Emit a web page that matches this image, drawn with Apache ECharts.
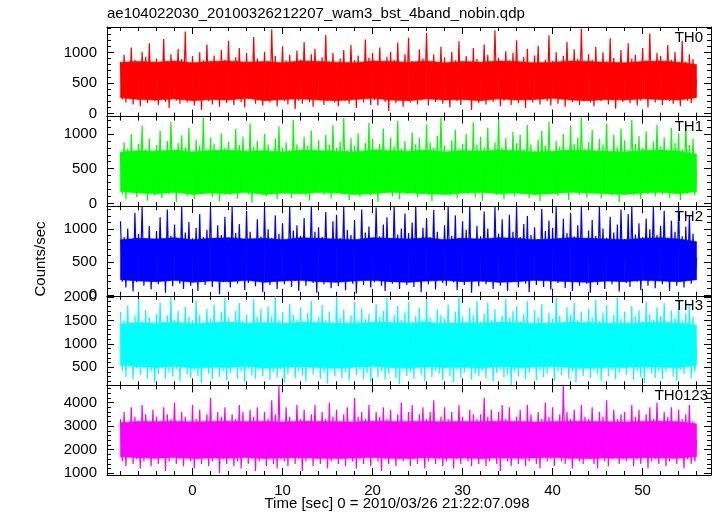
<!DOCTYPE html>
<html><head><meta charset="utf-8">
<script src="https://cdn.jsdelivr.net/npm/echarts@6/dist/echarts.min.js"></script>
<style>html,body{margin:0;padding:0;background:#fff}#c{width:717px;height:516px}</style>
</head><body><div id="c"></div>
<script>
const TITLE = 'ae104022030_20100326212207_wam3_bst_4band_nobin.qdp';
const X_NAME = 'Time [sec] 0 = 2010/03/26 21:22:07.098';
const Y_NAME = 'Counts/sec';
const BANDS = ['TH0', 'TH1', 'TH2', 'TH3', 'TH0123'];
const COLORS = ['#ff0000', '#00ff00', '#0000ff', '#00ffff', '#ff00ff'];

// light-curve samples (time grid: start -8 s, step 0.2 s)
const T_START = -8, T_STEP = 0.2;
const TH0 = [
 840,230,960,180,720,310,1080,150,880,260,790,120,1010,240,930,170,1150,290,820,200,
 900,140,760,270,1220,190,850,90,970,300,780,210,1060,160,890,250,1340,180,740,280,
 940,130,810,230,1000,60,870,260,1130,200,770,150,950,310,830,110,1040,220,880,170,
 1190,250,800,140,920,280,1070,190,760,100,990,240,850,300,1250,160,900,220,780,130,
 1010,270,860,180,1380,230,940,120,820,290,1100,200,870,150,960,260,790,70,1030,210,
 880,160,1170,280,830,190,970,110,1060,240,780,300,920,140,1290,210,850,250,990,180,
 760,120,900,270,1040,200,810,160,1120,290,870,90,950,230,800,180,1210,260,910,140,
 990,220,840,130,1080,280,760,190,930,40,1010,250,880,170,1160,230,820,110,970,300,
 1240,180,860,260,790,150,1050,210,900,270,1320,130,830,240,970,190,780,290,1090,160,
 920,250,810,100,1010,280,870,200,1180,140,760,230,940,310,850,60,1070,220,890,170,
 800,290,1130,150,960,240,820,190,1360,260,910,120,780,210,1020,280,870,140,990,230,
 1200,170,840,260,930,90,1060,220,790,180,950,300,1110,150,820,240,880,200,1280,130,
 860,250,1000,160,770,280,940,110,1170,230,830,190,1050,270,900,140,1390,210,810,260,
 970,180,880,120,1090,250,760,200,1000,290,850,150,1230,220,910,80,790,270,1040,190,
 830,240,1150,170,900,280,960,130,810,210,1070,260,870,100,1310,230,780,180,990,250,
 940,140,820,270,1120,200,880,160,1010,290,760,120,1190,240,850,210,970,170,890,280,
 560];
const TH1 = [
 720,130,880,60,790,210,1000,150,740,90,860,230,1120,170,780,40,930,200,700,110,
 840,160,1050,80,760,220,900,130,1180,190,730,20,870,240,980,150,810,100,1090,180,
 750,60,920,210,830,140,1240,170,780,230,950,90,860,190,710,30,1010,160,800,240,
 890,120,770,200,1070,70,840,180,960,220,740,130,1150,10,820,190,900,150,760,230,
 1000,100,850,170,720,240,930,60,1110,200,800,140,880,220,760,80,1200,160,850,190,
 740,230,960,110,830,40,1050,190,780,150,910,210,700,120,990,250,840,70,1130,170,
 800,200,890,130,1230,180,760,50,940,220,830,140,1010,90,720,230,870,160,1160,110,
 930,190,780,20,860,240,1080,150,740,200,950,100,820,170,1190,60,790,220,900,130,
 710,180,1020,210,850,90,940,150,760,230,1140,120,880,30,800,200,970,170,1240,140,
 830,220,750,110,910,160,1060,70,790,240,860,190,1000,130,730,210,1170,90,840,150,
 960,40,810,200,1090,170,760,230,880,120,1210,180,800,60,940,210,720,150,1030,100,
 870,230,990,140,780,190,1130,80,850,220,760,160,920,30,1050,200,830,130,1180,240,
 740,170,900,110,820,210,1000,150,770,50,1120,190,860,230,950,120,1240,180,790,90,
 880,220,1060,140,750,200,930,70,840,240,1150,160,720,110,990,190,810,20,1080,150,
 910,180,770,230,1200,120,860,170,970,60,800,210,1040,140,730,240,890,100,1130,190,
 820,130,950,220,760,80,1090,160,870,200,1010,50,780,180,1170,140,840,210,930,120,
 470];
const TH2 = [
 1120,200,880,110,1010,280,790,50,1250,190,930,240,1340,140,860,290,1050,80,820,230,
 970,160,1180,270,840,30,1300,210,900,130,1070,300,780,170,1340,90,950,250,1110,140,
 860,280,1020,60,1230,200,880,150,990,310,1340,120,830,230,1060,10,910,190,1190,260,
 800,110,1340,220,940,170,1080,290,850,70,1280,180,960,240,810,130,1150,300,890,40,
 1340,200,1000,150,870,270,1210,90,930,230,1090,160,820,310,1340,120,980,210,1060,60,
 900,250,1170,140,840,290,1340,180,960,30,1030,220,880,160,1260,270,800,100,1120,200,
 1220,130,870,240,1340,70,990,300,910,170,1140,20,830,230,1300,150,950,260,1040,110,
 820,190,1330,280,890,140,1070,60,1180,240,860,170,1340,300,920,90,1010,210,1240,150,
 940,270,1100,120,1340,200,850,40,1020,260,1170,160,880,290,1290,80,960,230,830,180,
 1060,140,1340,250,900,190,1210,70,870,300,1120,150,990,220,1340,30,840,270,1050,130,
 890,200,1270,160,1010,280,820,90,1340,240,930,140,1150,310,870,60,1220,190,960,250,
 1340,110,880,230,1080,170,1200,40,910,290,1030,150,850,210,1310,120,970,260,1130,80,
 1020,240,1340,180,860,300,1160,100,940,220,1250,60,890,270,1060,140,1340,200,830,170,
 980,30,1140,260,900,150,1340,230,1010,90,870,290,1190,160,950,210,1070,50,1300,240,
 850,180,1230,120,1340,270,920,200,1090,70,880,250,1160,140,1000,310,1340,100,910,220,
 1050,160,1280,230,870,60,1130,290,960,140,1340,200,890,110,1040,260,1200,170,930,240,
 560];
const TH3 = [
 1680,420,1500,290,1820,510,1400,230,1600,470,1950,330,1480,540,1720,260,1560,400,1430,180,
 1640,350,1880,490,1470,250,1610,380,2000,300,1520,450,1700,200,1450,520,1790,340,1580,270,
 1500,430,1930,310,1620,160,1460,480,1750,360,1540,240,1840,500,1420,290,1680,410,1990,220,
 1560,370,1440,530,1710,260,1870,400,1490,190,1630,460,1410,320,1960,250,1570,440,1740,300,
 1460,510,1800,230,1590,390,2010,280,1500,450,1680,170,1430,350,1860,480,1620,260,1520,410,
 1780,320,1480,200,1650,470,1920,340,1410,540,1570,250,1830,380,1500,150,1690,430,1440,300,
 2000,460,1550,270,1730,390,1460,210,1610,500,1900,330,1490,440,1760,240,1530,370,1640,180,
 1420,520,1850,290,1580,410,1700,230,1980,350,1470,480,1620,260,1810,130,1510,450,1670,310,
 1890,400,1450,250,1600,530,1770,340,1500,200,1950,470,1560,290,1410,420,1730,360,1620,220,
 1540,490,1840,310,1430,170,1690,440,2010,270,1580,380,1460,520,1780,230,1610,350,1920,300,
 1470,430,1650,260,1880,490,1520,190,1740,370,1430,450,1600,280,1960,340,1550,120,1700,410,
 1800,300,1490,460,1630,240,1910,380,1450,510,1720,220,1570,430,1850,290,1410,360,1660,480,
 1530,210,1990,400,1600,330,1460,470,1780,250,1620,390,1880,180,1500,440,1690,310,1430,520,
 1750,270,1560,420,1940,350,1480,200,1670,480,1830,300,1410,430,1620,240,2000,380,1540,460,
 1690,330,1450,510,1810,230,1590,400,1720,290,1470,160,1900,450,1630,360,1520,270,1780,420,
 1600,240,1870,390,1440,480,1710,300,1550,210,1960,440,1490,350,1650,500,1830,260,1580,400,
 900];
const TH0123 = [
 3300,1500,3600,1300,3100,1700,3800,1400,3400,1600,3200,1200,3900,1500,3500,1800,3100,1300,3700,1600,
 3400,1400,3200,1700,3800,1100,3500,1500,3300,1800,4000,1400,3100,1600,3600,1300,3400,1700,3200,1500,
 3900,1200,3300,1600,3700,1400,3100,1800,3500,1300,4200,1500,3200,1700,3600,1000,3400,1600,3800,1400,
 3100,1700,3500,1300,3300,1500,3900,1200,3600,1800,3200,1400,3700,1600,3400,1100,3800,1500,3100,1700,
 3600,1300,3300,1800,4100,1400,3500,1200,4700,1600,3200,1500,3800,1300,3400,1700,3100,1400,3900,1600,
 3300,1100,3700,1500,3200,1800,3500,1300,3900,1600,3100,1400,3600,1700,3300,1200,4000,1500,3400,1800,
 3700,1400,3200,1600,3500,1300,3800,1700,3100,1500,4200,1200,3400,1600,3600,1400,3300,1800,3900,1300,
 3200,1700,3600,1500,3400,1100,3800,1600,3300,1400,3700,1800,3100,1300,3500,1600,4000,1500,3200,1700,
 3600,1300,3900,1600,3200,1400,3500,1800,3800,1200,3300,1500,3600,1700,4100,1400,3100,1600,3400,1300,
 3800,1500,3300,1700,3600,1200,3200,1600,3900,1400,3400,1800,3100,1500,3700,1300,3500,1700,3300,1400,
 3500,1600,4200,1300,3400,1500,3700,1800,3200,1400,3600,1100,3900,1600,3300,1500,3800,1300,3100,1700,
 3400,1400,3700,1600,3200,1300,3900,1500,3500,1800,3100,1400,3600,1200,3300,1700,4000,1500,3400,1600,
 3800,1300,3200,1700,3500,1500,4700,1400,3600,1600,3300,1200,3700,1800,3100,1500,3900,1400,3400,1700,
 3300,1600,3800,1400,3100,1200,3600,1700,3400,1500,4100,1300,3200,1600,3700,1800,3300,1400,3500,1600,
 3600,1500,3200,1800,3900,1300,3400,1600,3700,1400,3100,1700,3500,1200,3800,1500,3300,1600,4000,1400,
 3200,1700,3600,1300,3400,1500,3800,1600,3100,1400,3700,1800,3300,1200,3500,1600,3900,1400,3200,1500,
 2400];
const SERIES = [TH0, TH1, TH2, TH3, TH0123];

// dense core of each light curve (time grid: start -8 s, step 2 s)
const BAND_T_STEP = 2;
const CORE_LO = [
 [260,230,220,240,210,230,220,250,210,230,240,220,210,230,250,220,210,240,220,230,210,240,220,230,250,220,210,230,220,240,230,220,260],
 [170,150,140,160,130,150,140,160,130,150,140,160,150,130,140,160,150,140,130,150,160,140,150,130,140,160,150,140,130,150,160,140,170],
 [230,210,200,220,190,210,200,220,190,210,220,200,190,210,220,200,190,210,220,200,210,190,200,220,210,200,190,210,200,220,210,200,230],
 [540,510,490,520,480,500,490,520,480,500,510,490,480,500,520,490,480,510,490,500,480,510,490,500,520,490,480,500,490,510,500,490,540],
 [1700,1660,1640,1670,1630,1650,1640,1670,1630,1650,1660,1640,1630,1650,1670,1640,1630,1660,1640,1650,1630,1660,1640,1650,1670,1640,1630,1650,1640,1660,1650,1640,1700]
];
const CORE_HI = [
 [840,850,840,860,830,850,860,840,850,830,860,850,840,830,860,850,840,860,830,850,840,860,850,830,840,860,850,840,830,850,860,840,800],
 [740,760,750,770,740,760,770,750,760,740,770,760,750,740,770,760,750,770,740,760,750,770,760,740,750,770,760,750,740,760,770,750,710],
 [840,860,850,870,840,860,870,850,860,840,870,860,850,840,870,860,850,870,840,860,850,870,860,840,850,870,860,850,840,860,870,850,810],
 [1420,1450,1440,1460,1430,1450,1460,1440,1450,1430,1460,1450,1440,1430,1460,1450,1440,1460,1430,1450,1440,1460,1450,1430,1440,1460,1450,1440,1430,1450,1460,1440,1400],
 [3150,3200,3190,3210,3180,3200,3210,3190,3200,3180,3210,3200,3190,3180,3210,3200,3190,3210,3180,3200,3190,3210,3200,3180,3190,3210,3200,3190,3180,3200,3210,3190,3100]
];

// axes
const X_RANGE = [-9.5, 57.6];
const X_MAJOR = [0, 10, 20, 30, 40, 50];
const X_MINOR = [-8,-6,-4,-2,2,4,6,8,12,14,16,18,22,24,26,28,32,34,36,38,42,44,46,48,52,54,56];
const Y_RANGE = [[-50, 1415], [-40, 1250], [-15, 1350], [110, 2025], [928, 4730]];
const Y_MAJOR = [[0,500,1000], [0,500,1000], [0,500,1000], [500,1000,1500,2000], [1000,2000,3000,4000]];
const Y_MINOR = [
 [100,200,300,400,600,700,800,900,1100,1200,1300,1400],
 [100,200,300,400,600,700,800,900,1100,1200],
 [100,200,300,400,600,700,800,900,1100,1200,1300],
 [200,300,400,600,700,800,900,1100,1200,1300,1400,1600,1700,1800,1900,2000],
 [1200,1400,1600,1800,2200,2400,2600,2800,3200,3400,3600,3800,4200,4400,4600]
];

// layout
const PLOT_LEFT = 107, PLOT_RIGHT = 711, PLOT_TOP = 27, PLOT_BOTTOM = 475;
const N = BANDS.length;
const PH = (PLOT_BOTTOM - PLOT_TOP) / N;
const FONT = "'Liberation Sans', Arial, Helvetica, sans-serif";
const INK = '#000';
const fmt = v => String(v);

const grids = [], xAxes = [], yAxes = [], series = [], graphics = [];
for (let i = 0; i < N; i++) {
  grids.push({ left: PLOT_LEFT, width: PLOT_RIGHT - PLOT_LEFT, top: PLOT_TOP + i * PH, height: PH, containLabel: false });
  const xb = xAxes.length;
  ['bottom', 'top'].forEach(pos => {
    [X_MAJOR, X_MINOR].forEach((vals, m) => {
      xAxes.push({
        type: 'value', gridIndex: i, position: pos, min: X_RANGE[0], max: X_RANGE[1],
        axisLine: { show: m === 0, onZero: false, lineStyle: { color: INK, width: 1 } },
        axisTick: { show: true, inside: true, length: m === 0 ? 7 : 4, customValues: vals, lineStyle: { color: INK, width: 1 } },
        axisLabel: { show: m === 0 && pos === 'bottom' && i === N - 1, customValues: vals, margin: 8, formatter: fmt,
                     color: INK, fontSize: 15, fontFamily: FONT },
        splitLine: { show: false }
      });
    });
  });
  const yb = yAxes.length;
  ['left', 'right'].forEach(pos => {
    [Y_MAJOR[i], Y_MINOR[i]].forEach((vals, m) => {
      yAxes.push({
        type: 'value', gridIndex: i, position: pos, min: Y_RANGE[i][0], max: Y_RANGE[i][1],
        axisLine: { show: m === 0, onZero: false, lineStyle: { color: INK, width: 1 } },
        axisTick: { show: true, inside: true, length: m === 0 ? 7 : 4, customValues: vals, lineStyle: { color: INK, width: 1 } },
        axisLabel: { show: m === 0 && pos === 'left', customValues: vals, margin: 10, formatter: fmt,
                     color: INK, fontSize: 15, fontFamily: FONT },
        splitLine: { show: false }
      });
    });
  });
  const lo = CORE_LO[i], hi = CORE_HI[i], col = COLORS[i];
  series.push({
    type: 'custom', xAxisIndex: xb, yAxisIndex: yb, silent: true, z: 1, clip: true,
    data: lo.map((v, k) => [T_START + k * BAND_T_STEP, v, hi[k]]),
    encode: { x: 0, y: [1, 2] },
    renderItem: (params, api) => {
      const k = params.dataIndex;
      if (k >= lo.length - 1) return null;
      const t0 = api.value(0), t1 = T_START + (k + 1) * BAND_T_STEP;
      const pts = [api.coord([t0, api.value(2)]), api.coord([t1, hi[k + 1]]),
                   api.coord([t1, lo[k + 1]]), api.coord([t0, api.value(1)])];
      return { type: 'polygon', shape: { points: pts }, style: { fill: col, stroke: col, lineWidth: 0.6 } };
    }
  });
  series.push({ type: 'line', xAxisIndex: xb, yAxisIndex: yb, symbol: 'none', silent: true, z: 2,
                data: SERIES[i].map((v, k) => [T_START + k * T_STEP, v]),
                lineStyle: { color: col, width: 1.2 }, clip: true });
  graphics.push({ type: 'text', right: (i === N - 1 ? 717 - 708 : 717 - 703), top: PLOT_TOP + i * PH + 3,
                  style: { text: BANDS[i], fill: INK, font: '15px ' + FONT }, z: 10 });
}
graphics.push({ type: 'text', left: PLOT_LEFT, top: 6, style: { text: TITLE, fill: INK, font: '15px ' + FONT } });
graphics.push({ type: 'text', x: 397, y: 504, style: { text: X_NAME, fill: INK, font: '15px ' + FONT, align: 'center', verticalAlign: 'middle' } });
graphics.push({ type: 'text', x: 40.5, y: 259, rotation: Math.PI / 2, style: { text: Y_NAME, fill: INK, font: '15px ' + FONT, align: 'center', verticalAlign: 'middle' } });

const chart = echarts.init(document.getElementById('c'), null, { renderer: 'canvas' });
chart.setOption({
  animation: false, backgroundColor: '#fff',
  grid: grids, xAxis: xAxes, yAxis: yAxes, series: series, graphic: graphics
});
</script></body></html>
